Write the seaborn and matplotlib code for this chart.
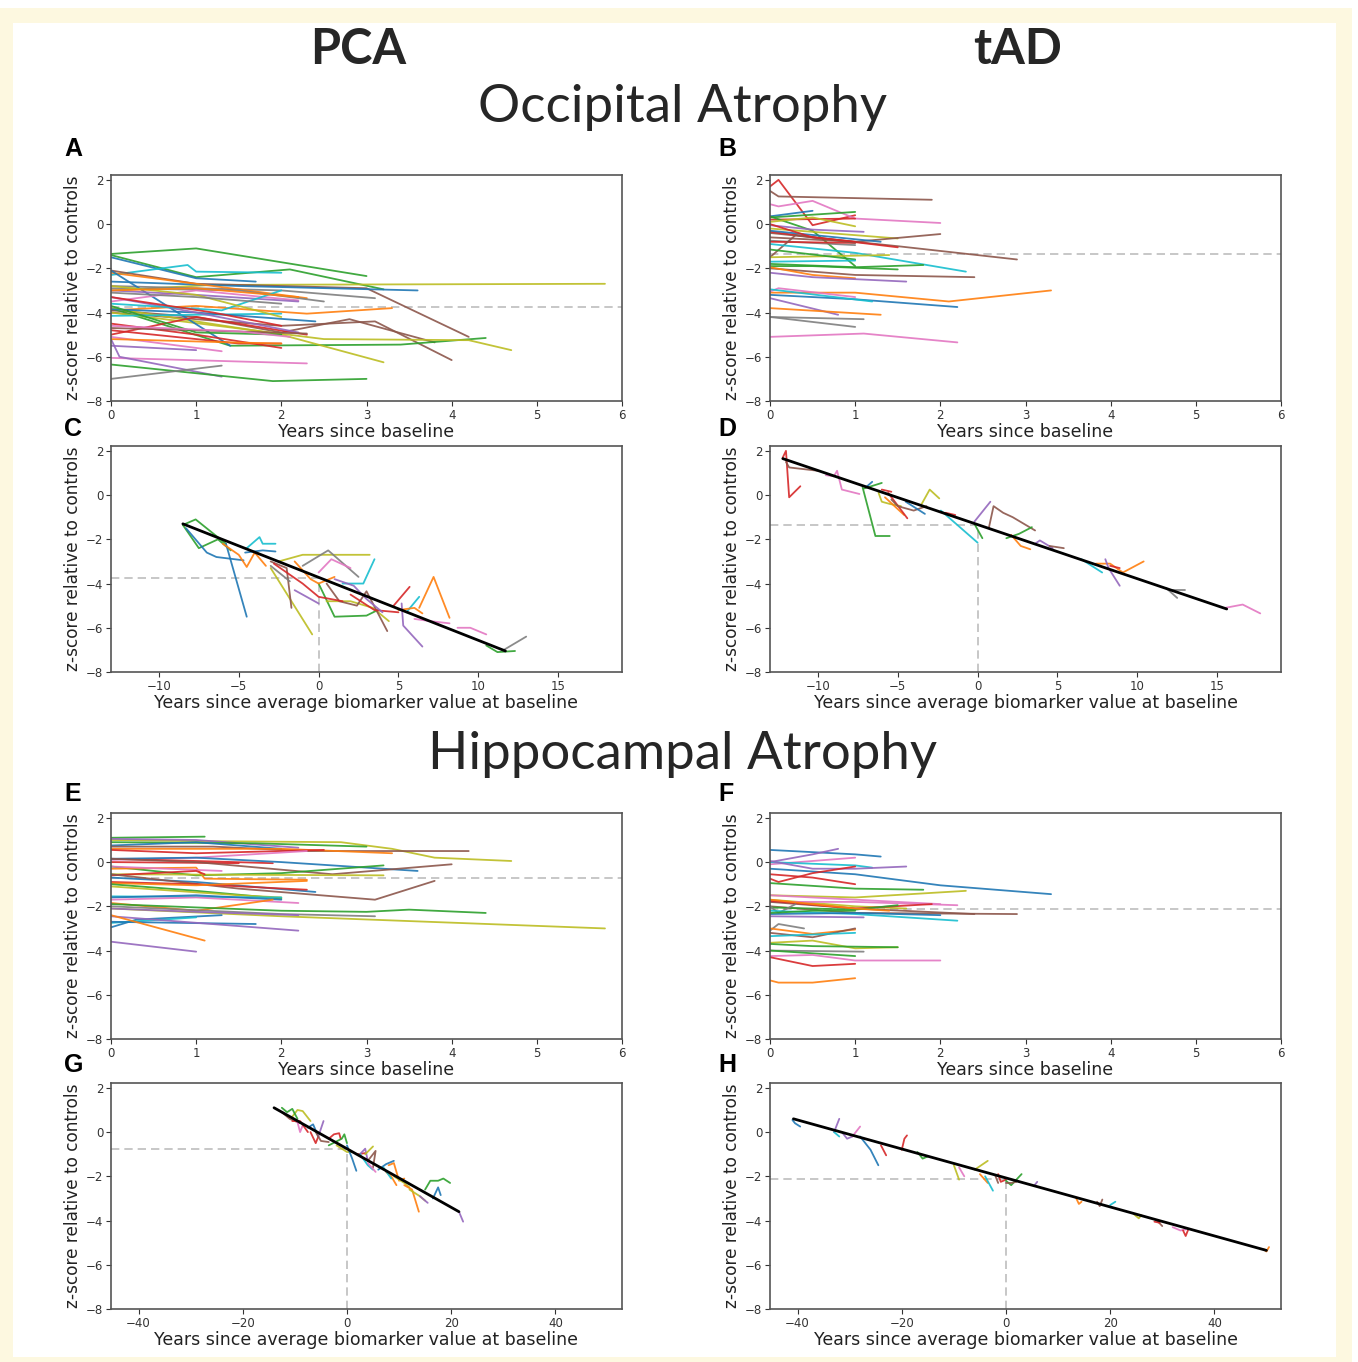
import matplotlib
matplotlib.use("Agg")
import matplotlib.pyplot as plt
import seaborn as sns
import pandas as pd
from matplotlib.patches import Rectangle

sns.set_theme(style="white")
plt.rcParams['font.family'] = ['DejaVu Sans']

PAL = sns.color_palette("tab10")

# ---------------- DATA ----------------
# Panel A: PCA occipital, years since baseline
A_traj = [
    [(0,-1.35),(1,-1.1),(3,-2.35)],
    [(0,-1.4),(1,-2.4),(2.1,-2.05),(3.2,-2.95)],
    [(0,-1.5),(1,-2.45),(1.7,-2.6)],
    [(0,-2.3),(0.9,-1.85),(1,-2.15),(2,-2.2)],
    [(0,-3.0),(1.2,-2.75),(5.8,-2.7)],
    [(0,-2.1),(1,-2.7),(3,-2.9),(4.2,-5.1)],
    [(0,-2.6),(1.5,-2.8),(3.6,-3.0)],
    [(0,-2.8),(2,-3.0),(3.1,-3.35)],
    [(0,-2.2),(1,-2.7),(2.3,-3.35)],
    [(0,-2.9),(1.5,-3.0),(2.5,-3.5)],
    [(0,-3.9),(1,-3.7),(2.3,-4.05),(3.3,-3.8)],
    [(0,-3.9),(1,-4.2),(2.0,-4.9),(2.8,-4.3),(3.8,-5.35)],
    [(0,-4.0),(2.0,-4.6),(3.1,-4.4),(4.0,-6.15)],
    [(0,-3.8),(1.4,-5.5),(3.4,-5.45),(4.4,-5.15)],
    [(0,-3.8),(2,-5.0),(3.2,-6.25)],
    [(0,-4.0),(2.5,-5.2),(4.2,-5.25),(4.7,-5.7)],
    [(0,-2.1),(1.4,-5.5)],
    [(0,-6.05),(2.3,-6.3)],
    [(0,-5.2),(0.1,-6.0),(1.3,-6.9)],
    [(0,-6.35),(1.9,-7.1),(3,-7.0)],
    [(0,-7.0),(1.3,-6.4)],
    [(0,-5.5),(1.0,-5.7)],
    [(0,-5.1),(1.3,-5.75)],
    [(0,-4.5),(1,-5.0),(2.0,-5.6)],
    [(0,-4.8),(1.5,-5.4),(2.0,-5.4)],
    [(0,-5.0),(1.0,-4.2),(2.3,-5.0)],
    [(0,-5.2),(1.4,-5.35),(2,-5.4)],
    [(0,-4.15),(2,-4.05)],
    [(0,-3.85),(1.0,-4.0),(2.4,-4.4)],
    [(0,-3.3),(1,-4.0),(2.2,-4.9)],
    [(0,-3.5),(1,-3.0),(2.2,-3.45)],
    [(0,-3.0),(1,-3.2),(2.2,-3.5)],
    [(0,-3.6),(1.3,-3.9),(2.0,-3.0)],
    [(0,-2.8),(1,-3.2),(2,-4.2)],
    [(0,-4.7),(1,-4.8),(2.3,-4.95)],
    [(0,-3.3),(1.2,-4.0),(2,-4.6)],
    [(0,-3.0),(1,-2.9),(2.2,-3.3)],
    [(0,-3.7),(1,-4.9),(2,-5.0)],
    [(0,-3.1),(1,-3.3),(2,-3.6)],
    [(0,-4.6),(1.5,-4.85),(2.1,-5.1)],
]
A_col = [2,2,0,9,8,5,0,7,1,7,1,5,5,2,8,8,0,6,4,2,7,4,6,3,3,3,1,9,0,4,6,4,9,8,5,3,1,2,7,6]
A_mean = -3.75

# Panel B: tAD occipital, years since baseline
B_traj = [
    [(0,1.7),(0.1,2.0),(0.5,-0.05),(1,0.4)],
    [(0,1.5),(0.1,1.25),(1.9,1.1)],
    [(0,0.9),(0.1,0.8),(0.5,1.05),(1,0.25),(2,0.05)],
    [(0,0.35),(0.5,0.6)],
    [(0,0.3),(1,0.55)],
    [(0,0.2),(1,0.25)],
    [(0,0.35),(0.5,-0.3),(1,-1.9)],
    [(0,0.1),(0.5,0.3),(1,-0.1)],
    [(0,-0.05),(0.5,-0.25),(1.1,-0.35)],
    [(0,-0.2),(1.5,-0.65)],
    [(0,-0.6),(1,-0.8),(2,-0.45)],
    [(0,-0.4),(1.5,-1.0),(2.9,-1.6)],
    [(0,-0.35),(1.5,-1.05)],
    [(0,-0.3),(1.3,-0.8)],
    [(0,-0.75),(1,-0.95)],
    [(0,-0.8),(1,-0.85)],
    [(0,-1.5),(0.3,-0.5),(1,-0.85)],
    [(0,-0.9),(1,-1.3),(2.3,-2.15)],
    [(0,-1.5),(1.4,-1.4)],
    [(0,-1.15),(1,-1.6)],
    [(0,-1.8),(1,-1.95),(1.8,-1.85)],
    [(0,-1.9),(0.5,-1.9),(1.5,-2.05)],
    [(0,-1.7),(1,-1.65)],
    [(0,-2.0),(1,-2.3),(2.4,-2.4)],
    [(0,-1.95),(0.5,-2.3),(1,-2.45)],
    [(0,-2.2),(0.5,-2.4),(1.6,-2.6)],
    [(0,-3.1),(1,-3.1),(2.1,-3.5),(3.3,-3.0)],
    [(0,-3.2),(1,-3.4),(2.2,-3.75)],
    [(0,-3.05),(0.1,-2.9),(1,-3.3)],
    [(0,-2.95),(1.2,-3.5)],
    [(0,-3.35),(0.8,-4.1)],
    [(0,-3.8),(1.3,-4.1)],
    [(0,-4.2),(1.1,-4.3)],
    [(0,-4.2),(1,-4.65)],
    [(0,-5.1),(1.1,-4.95),(2.2,-5.35)],
    [(0,0.0),(0.5,-0.6),(1,-0.8)],
]
B_col = [3,5,6,0,2,3,2,8,4,8,5,5,3,0,7,3,5,9,8,2,2,2,9,5,1,4,1,0,6,9,4,1,7,7,6,3]
B_mean = -1.35

# Panel C: PCA occipital, years since average biomarker value
C_traj = [
    [(-8.5,-1.35),(-7.7,-1.1),(-5.8,-2.2)],
    [(-8.5,-1.35),(-7.5,-2.4),(-6.3,-2.0),(-5.5,-2.5)],
    [(-8.3,-1.5),(-7.0,-2.6),(-6.4,-2.8),(-4.7,-2.95)],
    [(-4.5,-2.4),(-3.7,-1.9),(-3.5,-2.2),(-2.7,-2.2)],
    [(-4.6,-2.6),(-3.5,-2.5),(-2.7,-2.55)],
    [(-5.8,-2.2),(-4.5,-5.5)],
    [(-6.0,-2.2),(-5.0,-2.7),(-4.5,-3.25),(-4.0,-2.6),(-3.3,-3.2)],
    [(-3.0,-3.3),(-0.4,-6.3)],
    [(-2.5,-3.0),(-1.0,-2.7),(3.2,-2.7)],
    [(-1.0,-3.2),(0.6,-2.5),(2.5,-3.7)],
    [(0.0,-3.5),(0.8,-2.9),(2.0,-3.3)],
    [(1.5,-4.0),(2.8,-4.0),(3.5,-2.9)],
    [(0.0,-4.0),(1.0,-5.5),(3.0,-5.45),(3.7,-5.2)],
    [(0.5,-4.8),(2.0,-4.8),(3.4,-5.1),(4.4,-5.7)],
    [(-3.0,-3.0),(-2.0,-3.3),(-1.7,-5.1)],
    [(0.5,-4.0),(1.3,-4.8),(2.4,-5.0),(3.0,-4.35),(4.3,-6.15)],
    [(-2.8,-3.1),(-1.0,-4.0),(0.0,-4.6),(1.5,-4.8)],
    [(-1.5,-4.3),(0.0,-4.9)],
    [(4.7,-5.0),(5.7,-4.15)],
    [(2.0,-4.5),(3.5,-5.2),(5.0,-5.3)],
    [(5.5,-5.3),(6.3,-4.6)],
    [(5.0,-5.2),(6.0,-5.1),(6.5,-5.35)],
    [(6.3,-5.1),(7.2,-3.7),(8.2,-5.55)],
    [(5.2,-4.9),(5.3,-5.9),(6.5,-6.85)],
    [(8.7,-6.0),(9.5,-6.0),(10.5,-6.3)],
    [(10.5,-6.8),(11.2,-7.1),(12.3,-7.05)],
    [(11.6,-7.0),(13.0,-6.4)],
    [(-3.0,-3.2),(-1.8,-3.9)],
    [(-1.5,-3.0),(-0.5,-3.8),(0.0,-4.0),(1.0,-3.7)],
    [(6.0,-5.6),(7.0,-5.7),(8.2,-5.8)],
    [(1.0,-3.8),(2.2,-4.1),(3.0,-4.7),(4.0,-5.3)],
]
C_col = [2,2,0,9,0,0,1,8,8,7,6,9,2,8,5,5,3,4,3,3,9,1,1,4,6,2,7,7,1,6,4]
C_trend_x = [-8.5, 11.7]
C_trend_y = [-1.3, -7.05]
C_mean = -3.75

# Panel D: tAD occipital, years since average biomarker value
D_traj = [
    [(-12.2,1.7),(-12.0,2.0),(-11.8,-0.1),(-11.1,0.4)],
    [(-12.0,1.5),(-11.8,1.25),(-10.0,1.1)],
    [(-9.5,0.9),(-9.0,0.85),(-8.8,1.1),(-8.5,0.25),(-7.4,0.05)],
    [(-7.0,0.35),(-6.6,0.6)],
    [(-7.1,0.3),(-6.0,0.55)],
    [(-7.2,0.35),(-6.4,-1.85),(-5.5,-1.85)],
    [(-6.2,0.1),(-6.0,-0.3),(-5.5,-0.4),(-4.8,-0.5)],
    [(-6.0,0.25),(-5.4,0.15)],
    [(-5.8,-0.1),(-4.6,-0.9)],
    [(-5.6,0.1),(-4.4,-1.05)],
    [(-5.4,-0.2),(-5.0,-0.5),(-4.0,-0.7),(-3.2,-0.5)],
    [(-4.5,-0.3),(-3.3,-0.85)],
    [(-3.5,-0.4),(-3.0,0.25),(-2.4,-0.15)],
    [(-2.0,-0.8),(-1.4,-0.9)],
    [(-2.3,-0.7),(0.0,-2.15)],
    [(-0.2,-1.2),(0.8,-0.3)],
    [(-0.2,-1.3),(0.3,-1.95)],
    [(0.7,-1.5),(1.0,-0.5),(1.6,-0.8),(2.2,-1.0),(3.6,-1.6)],
    [(1.8,-1.95),(2.6,-1.75),(3.4,-1.45)],
    [(2.1,-1.8),(2.7,-2.3),(3.3,-2.45)],
    [(3.6,-2.2),(3.9,-2.05),(4.7,-2.4)],
    [(4.5,-2.3),(5.4,-2.4)],
    [(6.5,-2.9),(7.8,-3.5)],
    [(7.4,-3.1),(8.3,-3.1),(9.1,-3.5),(10.4,-3.0)],
    [(8.0,-2.9),(8.2,-3.3),(8.9,-4.1)],
    [(8.3,-3.2),(8.9,-3.3)],
    [(11.8,-4.2),(12.5,-4.65)],
    [(12.2,-4.3),(13.0,-4.3)],
    [(15.5,-5.1),(16.6,-4.95),(17.7,-5.35)],
]
D_col = [3,5,6,0,2,2,8,3,1,3,5,0,8,3,9,4,2,5,2,1,4,5,9,1,4,3,7,7,6]
D_trend_x = [-12.2, 15.6]
D_trend_y = [1.65, -5.15]
D_mean = -1.35

# Panel E: PCA hippocampal, years since baseline
E_traj = [
    [(0,1.1),(1.1,1.15)],
    [(0,1.0),(1,0.95),(2.7,0.9),(3.3,0.6),(3.8,0.2),(4.7,0.05)],
    [(0,1.05),(1,1.0),(2.2,0.65)],
    [(0,0.9),(1.7,0.85),(3,0.7)],
    [(0,0.75),(1,0.9),(2,0.6)],
    [(0,0.7),(1.2,0.7),(2.3,0.5),(4.2,0.5)],
    [(0,0.6),(2,0.6),(3.3,0.4)],
    [(0,0.55),(1,0.4),(2.5,0.55)],
    [(0,0.1),(1,0.2),(2.3,0.5)],
    [(0,0.15),(1,0.05),(1.9,-0.05)],
    [(0,0.15),(1,0.2),(2,0.0),(3.6,-0.4)],
    [(0,0.0),(1.5,-0.05)],
    [(0,0.15),(1,0.0),(2.6,-0.55),(4,-0.1)],
    [(0,-0.2),(1,-0.6),(2,-0.5),(3.2,-0.15)],
    [(0,-0.3),(1,-0.25),(1.1,-0.75),(2.3,-0.8)],
    [(0,-0.2),(1.3,-0.4)],
    [(0,-0.55),(3.2,-0.6)],
    [(0,-0.6),(1,-0.4),(1.1,-0.55)],
    [(0,-0.7),(1,-0.9),(2.4,-1.35)],
    [(0,-0.55),(1.5,-1.2),(3.1,-1.7),(3.8,-0.85)],
    [(0,-0.9),(1,-1.0),(2.3,-1.25)],
    [(0,-0.95),(1,-1.05),(2.3,-0.85)],
    [(0,-1.0),(1,-1.3),(2,-1.65)],
    [(0,-1.1),(1.5,-1.5),(2,-1.6)],
    [(0,-1.55),(2,-1.6)],
    [(0,-1.6),(1,-1.5),(2,-1.7)],
    [(0,-1.7),(1,-1.6),(2.2,-1.85)],
    [(0,-1.85),(1,-2.2),(1.9,-1.7)],
    [(0,-1.9),(2,-2.2),(3,-2.25),(3.5,-2.15),(4.4,-2.3)],
    [(0,-2.0),(2,-2.35),(3.1,-2.45)],
    [(0,-2.1),(2,-2.45),(5.8,-3.0)],
    [(0,-2.1),(1,-2.25),(2.2,-2.4)],
    [(0,-2.95),(0.3,-2.6),(1.3,-2.4)],
    [(0,-2.75),(1,-2.5)],
    [(0,-2.7),(1.7,-2.8)],
    [(0,-2.45),(2.2,-3.1)],
    [(0,-2.4),(1.1,-3.55)],
    [(0,-3.6),(1,-4.05)],
]
E_col = [2,8,4,2,0,5,1,3,6,3,0,3,5,2,1,6,8,3,0,5,3,1,2,8,9,0,6,1,2,7,8,4,0,9,0,4,1,4]
E_mean = -0.7

# Panel F: tAD hippocampal, years since baseline
F_traj = [
    [(0,0.55),(1,0.35),(1.3,0.25)],
    [(0,0.0),(0.5,0.35),(0.8,0.6)],
    [(0,-0.1),(1,0.2)],
    [(0,0.0),(1,-0.15),(1.2,-0.25)],
    [(0,0.05),(0.5,-0.3),(1,-0.3),(1.6,-0.2)],
    [(0,-0.3),(1,-0.55),(2,-1.05),(3.3,-1.45)],
    [(0,-0.55),(0.5,-0.7),(1,-1.0)],
    [(0,-0.75),(0.1,-0.9),(0.5,-0.5),(1,-0.2)],
    [(0,-0.95),(1,-1.2),(1.8,-1.25)],
    [(0,-1.5),(1,-1.6),(2.3,-1.3)],
    [(0,-1.5),(1,-1.7),(2,-1.9)],
    [(0,-1.7),(1,-2.0),(1.6,-2.1)],
    [(0,-1.8),(1,-1.8),(2.2,-1.95)],
    [(0,-1.8),(1,-2.1),(2.4,-2.35)],
    [(0,-2.0),(1,-2.3),(2.9,-2.35)],
    [(0,-1.75),(1,-2.1),(1.9,-1.9)],
    [(0,-2.05),(1,-2.15),(1.5,-1.95)],
    [(0,-1.7),(1,-2.1),(1.4,-2.2)],
    [(0,-2.0),(0.1,-2.3),(0.3,-1.9)],
    [(0,-2.2),(1,-2.35),(2.2,-2.65)],
    [(0,-2.35),(1,-2.3),(2,-2.4)],
    [(0,-2.45),(1.1,-2.5)],
    [(0,-2.3),(0.5,-2.2),(1,-2.2)],
    [(0,-3.1),(0.1,-2.8),(0.4,-3.0)],
    [(0,-3.0),(0.5,-3.25),(1,-3.05)],
    [(0,-3.2),(0.5,-3.4),(1,-3.0)],
    [(0,-3.35),(1,-3.2)],
    [(0,-3.65),(0.5,-3.55),(1,-3.9),(1.5,-3.85)],
    [(0,-3.7),(0.5,-3.8),(1.5,-3.85)],
    [(0,-4.0),(1.1,-4.05)],
    [(0,-4.0),(1,-4.25)],
    [(0,-4.25),(0.5,-4.2),(1,-4.45),(2,-4.45)],
    [(0,-4.3),(0.5,-4.7),(1,-4.6)],
    [(0,-5.35),(0.1,-5.45),(0.5,-5.45),(1,-5.25)],
]
F_col = [0,4,6,9,4,0,3,3,2,8,6,8,6,5,5,3,2,1,7,9,0,4,2,7,1,5,9,8,2,7,2,6,3,1]
F_mean = -2.1

# Panel G: PCA hippocampal, years since average biomarker value
G_traj = [
    [(-10.5,0.7),(-9.5,1.0),(-8.5,0.95),(-7.0,0.5)],
    [(-12.5,1.1),(-11.5,0.9),(-10.5,1.05),(-9.5,0.6)],
    [(-12.5,0.9),(-11.0,0.6),(-9.0,0.4)],
    [(-11.0,0.7),(-9.5,0.45),(-9.0,0.0),(-8.5,0.3)],
    [(-10.5,0.5),(-9.0,0.5),(-7.5,0.0)],
    [(-7.5,0.2),(-6.5,0.35),(-5.5,-0.2)],
    [(-7.0,0.0),(-6.0,-0.5),(-5.5,-0.2)],
    [(-5.5,-0.2),(-4.5,0.5)],
    [(-6.0,0.0),(-5.0,-0.4),(-3.5,-0.45)],
    [(-3.5,-0.3),(-2.5,-0.1),(-1.5,-0.05),(-1.2,-0.3)],
    [(-3.5,-0.6),(-1.0,-0.3),(-0.5,-0.1),(0.0,-0.5)],
    [(-2.0,-0.6),(0.0,-0.9),(1.0,-0.9)],
    [(0.0,-0.6),(1.0,-1.2),(1.8,-1.75)],
    [(2.0,-1.0),(3.5,-0.95)],
    [(2.5,-1.0),(3.5,-0.75),(4.0,-1.3)],
    [(3.5,-1.0),(5.0,-0.65)],
    [(4.0,-1.3),(5.5,-0.85),(5.0,-1.6)],
    [(2.5,-1.0),(4.0,-1.5),(5.0,-1.7)],
    [(4.0,-1.4),(5.5,-1.8)],
    [(8.0,-1.5),(9.0,-1.4),(10.0,-2.2),(11.0,-2.1)],
    [(6.0,-1.7),(7.5,-1.45),(9.0,-1.3)],
    [(7.5,-1.8),(8.5,-2.0),(9.5,-2.4)],
    [(7.0,-1.6),(8.5,-2.1)],
    [(9.0,-2.0),(11.0,-2.3),(12.0,-2.5)],
    [(11.0,-2.4),(12.5,-2.6),(13.8,-3.6)],
    [(15.0,-2.6),(16.0,-2.2),(17.5,-2.2),(18.5,-2.1),(19.8,-2.3)],
    [(16.5,-3.0),(17.5,-2.5),(18.0,-2.85)],
    [(21.5,-3.6),(22.3,-4.05)],
    [(12.0,-2.6),(14.0,-2.9),(15.0,-3.1)],
    [(14.0,-2.9),(15.5,-3.2)],
]
G_col = [8,2,5,6,3,0,3,4,5,3,2,8,0,3,4,8,5,9,6,1,0,1,9,8,1,2,0,4,8,4]
G_trend_x = [-14.0, 21.5]
G_trend_y = [1.1, -3.6]
G_mean = -0.75

# Panel H: tAD hippocampal, years since average biomarker value
H_traj = [
    [(-41.0,0.55),(-40.5,0.4),(-39.5,0.25)],
    [(-33.0,0.0),(-32.0,0.6)],
    [(-33.0,0.0),(-32.0,-0.2)],
    [(-31.5,0.0),(-30.5,-0.3),(-29.5,-0.2)],
    [(-29.5,-0.2),(-28.0,0.25)],
    [(-28.0,-0.2),(-26.0,-0.8),(-24.5,-1.5)],
    [(-24.0,-0.6),(-23.0,-1.05)],
    [(-20.0,-0.8),(-19.5,-0.3),(-19.0,-0.15)],
    [(-17.0,-0.9),(-16.0,-1.2),(-15.0,-1.1)],
    [(-10.0,-1.5),(-9.0,-2.15)],
    [(-9.0,-1.6),(-8.0,-2.0)],
    [(-6.0,-1.7),(-3.5,-1.3)],
    [(-5.0,-1.9),(-3.5,-2.3)],
    [(-4.0,-2.0),(-2.5,-2.65)],
    [(-2.0,-2.0),(-1.5,-2.3)],
    [(-1.5,-1.9),(-1.0,-2.25),(0.0,-2.15)],
    [(0.0,-2.2),(1.0,-2.4),(2.0,-2.15),(3.0,-1.9)],
    [(0.0,-2.3),(1.0,-2.3),(2.0,-2.25)],
    [(5.5,-2.4),(6.0,-2.25)],
    [(13.5,-3.0),(14.0,-3.25),(14.5,-3.15)],
    [(17.5,-3.15),(18.0,-3.35),(18.5,-3.05)],
    [(20.0,-3.3),(21.0,-3.15)],
    [(24.5,-3.7),(25.5,-3.9),(26.0,-3.75)],
    [(29.0,-4.0),(30.0,-4.25)],
    [(28.5,-4.05),(29.5,-4.1)],
    [(32.0,-4.3),(33.5,-4.45),(34.5,-4.4)],
    [(34.0,-4.45),(34.5,-4.7),(35.0,-4.4)],
    [(49.5,-5.3),(50.0,-5.4),(50.5,-5.2)],
]
H_col = [0,4,9,4,6,0,3,3,2,8,6,8,1,9,5,3,2,5,4,1,5,9,8,5,3,6,3,1]
H_trend_x = [-40.8, 50.0]
H_trend_y = [0.6, -5.35]
H_mean = -2.1

YEARS_TICKS = [0, 1, 2, 3, 4, 5, 6]
SHIFT_TICKS_OCC = [-10, -5, 0, 5, 10, 15]
SHIFT_TICKS_HIP = [-40, -20, 0, 20, 40]
Z_TICKS = [-8, -6, -4, -2, 0, 2]

# ---------------- FIGURE ----------------
W, H = 1358, 1362
fig = plt.figure(figsize=(W / 100, H / 100), dpi=100, facecolor="white")

CREAM = "#fdf8e0"
fig.patches.append(Rectangle((0, 0), 1352 / W, 1 - 8 / H, transform=fig.transFigure,
                             facecolor=CREAM, edgecolor="none", zorder=-10))
fig.patches.append(Rectangle((13 / W, 1 - 1357 / H), (1336 - 13) / W, (1357 - 23) / H,
                             transform=fig.transFigure, facecolor="white",
                             edgecolor="none", zorder=-9))


def ax_at(left, top, right, bottom):
    return fig.add_axes([left / W, 1 - bottom / H, (right - left) / W, (bottom - top) / H])


def to_df(trajs):
    rows = []
    for i, tr in enumerate(trajs):
        for x, y in tr:
            rows.append((i, x, y))
    return pd.DataFrame(rows, columns=["subj", "x", "y"])


def style_axes(ax, xlim, xticks, xlabel):
    ax.set_xlim(*xlim)
    ax.set_ylim(-8, 2.22)
    ax.set_xticks(xticks)
    ax.set_yticks(Z_TICKS)
    ax.tick_params(axis="both", which="both", bottom=True, left=True, direction="out",
                   length=3.5, width=0.8, labelsize=8.5, colors="#333333", pad=2)
    for s in ax.spines.values():
        s.set_color("#555555")
        s.set_linewidth(1.2)
    ax.set_xlabel(xlabel, fontsize=12.5, labelpad=1, color="#222222")
    ax.set_ylabel("z-score relative to controls", fontsize=12.2, labelpad=3, color="#222222")
    ax.set_facecolor("white")


def draw_traj(ax, trajs, cols):
    df = to_df(trajs)
    pal = {i: PAL[c] for i, c in enumerate(cols)}
    sns.lineplot(data=df, x="x", y="y", hue="subj", units="subj", estimator=None,
                 sort=False, palette=pal, legend=False, linewidth=1.3, alpha=0.9, ax=ax)


DASH = dict(color="#bdbdbd", linestyle=(0, (5, 3)), linewidth=1.2, zorder=1)

lefts = [(111, 622), (770, 1281)]
rows_y = [(175, 401), (446, 672), (813, 1039), (1083, 1309)]
letter_base = [156, 436, 801, 1072]

panels = [
    ("A", A_traj, A_col, None, None, A_mean, 0, 0),
    ("B", B_traj, B_col, None, None, B_mean, 0, 1),
    ("C", C_traj, C_col, C_trend_x, C_trend_y, C_mean, 1, 0),
    ("D", D_traj, D_col, D_trend_x, D_trend_y, D_mean, 1, 1),
    ("E", E_traj, E_col, None, None, E_mean, 2, 0),
    ("F", F_traj, F_col, None, None, F_mean, 2, 1),
    ("G", G_traj, G_col, G_trend_x, G_trend_y, G_mean, 3, 0),
    ("H", H_traj, H_col, H_trend_x, H_trend_y, H_mean, 3, 1),
]

for name, trajs, cols, tx, ty, mean, r, c in panels:
    l, rgt = lefts[c]
    t, b = rows_y[r]
    ax = ax_at(l, t, rgt, b)
    if tx is None:
        xlim = (0, 6)
        style_axes(ax, xlim, YEARS_TICKS, "Years since baseline")
        ax.axhline(mean, **DASH)
    else:
        if r == 1:
            xlim = (-13, 19)
            ticks = SHIFT_TICKS_OCC
        else:
            xlim = (-45.3, 52.8)
            ticks = SHIFT_TICKS_HIP
        style_axes(ax, xlim, ticks, "Years since average biomarker value at baseline")
        ax.plot([xlim[0], 0], [mean, mean], **DASH)
        ax.plot([0, 0], [-8, mean], **DASH)
    draw_traj(ax, trajs, cols)
    if tx is not None:
        sns.lineplot(x=tx, y=ty, color="black", linewidth=2.0, ax=ax, zorder=5)
        ax.set_xlim(*xlim)
        ax.set_ylim(-8, 2.22)
        ax.set_xlabel(ax.get_xlabel())
    # panel letter
    lx = 64 if c == 0 else 718
    ly = letter_base[r]
    fig.text(lx / W, 1 - ly / H, name, fontsize=18, fontweight="bold",
             family="Liberation Sans", ha="left", va="baseline", color="black")

# column and section titles
fig.text(358 / W, 1 - 64 / H, "PCA", fontsize=35, fontweight="bold", family="Lato",
         ha="center", va="baseline")
fig.text(1018 / W, 1 - 64 / H, "tAD", fontsize=35, fontweight="bold", family="Lato",
         ha="center", va="baseline")
fig.text(683 / W, 1 - 122 / H, "Occipital Atrophy", fontsize=38, family="Lato",
         ha="center", va="baseline")
fig.text(683 / W, 1 - 769 / H, "Hippocampal Atrophy", fontsize=38, family="Lato",
         ha="center", va="baseline")

fig.savefig("out.png", dpi=100, facecolor="white")
